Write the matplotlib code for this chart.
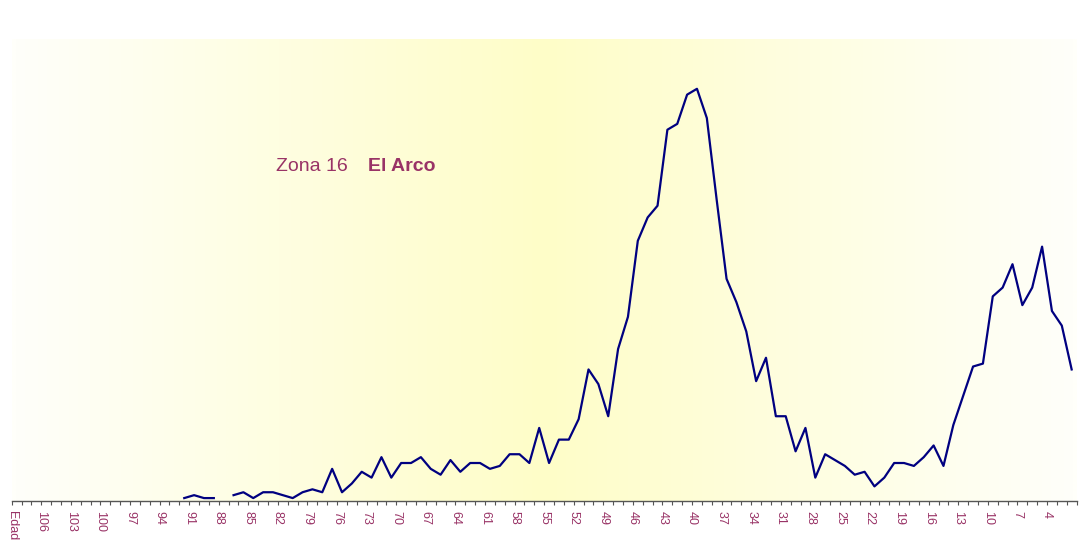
import numpy as np
import matplotlib
matplotlib.use("Agg")
import matplotlib.pyplot as plt
from matplotlib.colors import LinearSegmentedColormap

# ages on the axis run from 109 ("Edad" slot) down to 1
age_max = 109
tick_step = 3

# population by single year of age, oldest first (87 has no value)
ages = list(range(91, 0, -1))
counts = [
    1, 2, 1, 1, np.nan, 2, 3, 1, 3, 3,          # 91..82
    2, 1, 3, 4, 3, 11, 3, 6, 10, 8,             # 81..72
    15, 8, 13, 13, 15, 11, 9, 14, 10, 13,       # 71..62
    13, 11, 12, 16, 16, 13, 25, 13, 21, 21,     # 61..52
    28, 45, 40, 29, 52, 63, 89, 97, 101, 127,   # 51..42
    129, 139, 141, 131, 103, 76, 68, 58, 41, 49,  # 41..32
    29, 29, 17, 25, 8, 16, 14, 12, 9, 10,       # 31..22
    5, 8, 13, 13, 12, 15, 19, 12, 26, 36,       # 21..12
    46, 47, 70, 73, 81, 67, 73, 87, 65, 60,     # 11..2
    45,                                         # 1
]

zone_label = "Zona 16"
zone_name = "El Arco"

text_color = "#993366"
line_color = "#000080"

plt.rcParams['font.family'] = ['Liberation Sans', 'DejaVu Sans']

fig = plt.figure(figsize=(10.82, 5.46), dpi=100)
ax = fig.add_axes([0.0108, 0.0824, 0.9842, 0.846])

n_slots = age_max - 1
ymax = 158

# soft yellow band, brightest around the middle ages
cmap = LinearSegmentedColormap.from_list(
    "band", [(0.0, "#fffffa"), (0.5, "#fefdc8"), (1.0, "#fffffa")])
grad = np.linspace(0, 1, 400).reshape(1, -1)
ax.imshow(grad, cmap=cmap, aspect="auto", extent=[0, n_slots, 0, ymax],
          zorder=0, interpolation="bilinear")

x = [age_max - a - 0.5 for a in ages]
ax.plot(x, counts, color=line_color, lw=1.6, zorder=3)

ax.set_xlim(0, n_slots)
ax.set_ylim(0, ymax)

tick_pos = list(range(0, n_slots + 1))
tick_lab = []
for k in tick_pos:
    if k == 0:
        tick_lab.append("Edad")
    elif k % tick_step == 0 and k < n_slots:
        tick_lab.append(str(age_max - k))
    else:
        tick_lab.append("")
ax.set_xticks(tick_pos)
ax.set_xticklabels(tick_lab, rotation=270, fontsize=9, color=text_color,
                   va="top", ha="center")
ax.tick_params(axis="x", direction="out", length=3.2, width=0.8,
               color="#555555", pad=4)
ax.set_yticks([])

for s in ["top", "right", "left"]:
    ax.spines[s].set_visible(False)
ax.spines["bottom"].set_color("#555555")
ax.spines["bottom"].set_linewidth(1.0)

ax.text(26.8, 113, zone_label, fontsize=14, color=text_color)
ax.text(36.1, 113, zone_name, fontsize=14, color=text_color, fontweight="bold")

fig.savefig("out.png", dpi=100)
